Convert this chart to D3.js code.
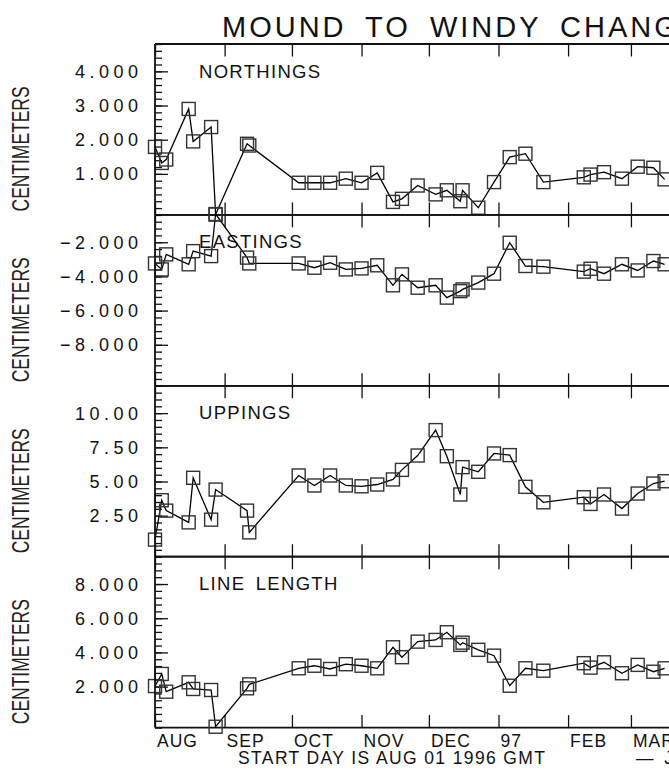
<!DOCTYPE html>
<html>
<head>
<meta charset="utf-8">
<script src="https://cdn.jsdelivr.net/npm/d3@7"></script>
<style>
  body { margin: 0; background: #fff; }
  svg { display: block; font-family: "Liberation Sans", Arial, sans-serif; }
</style>
</head>
<body>
<div id="chart"></div>
<script>
const svg_width = 669;
const svg_height = 772;

// measurement days (GMT)
const dates = [
  "1996-08-01", "1996-08-04", "1996-08-06", "1996-08-16", "1996-08-18",
  "1996-08-26", "1996-08-28", "1996-09-11", "1996-09-12", "1996-10-04",
  "1996-10-11", "1996-10-18", "1996-10-25", "1996-11-01", "1996-11-08",
  "1996-11-15", "1996-11-19", "1996-11-26", "1996-12-04", "1996-12-09",
  "1996-12-15", "1996-12-16", "1996-12-23", "1996-12-30", "1997-01-06",
  "1997-01-13", "1997-01-21", "1997-02-08", "1997-02-11", "1997-02-17",
  "1997-02-25", "1997-03-04", "1997-03-11", "1997-03-16"
];

const northings = [
  1.79, 1.32, 1.42, 2.90, 1.95, 2.37, -0.19, 1.88, 1.83, 0.74,
  0.74, 0.74, 0.86, 0.74, 1.03, 0.18, 0.27, 0.66, 0.40, 0.52,
  0.20, 0.52, 0.01, 0.76, 1.49, 1.59, 0.76, 0.90, 0.98, 1.05,
  0.86, 1.21, 1.18, 0.84
];

const eastings = [
  -3.24, -3.59, -2.71, -3.29, -2.52, -2.81, -0.35, -2.90, -3.24, -3.24,
  -3.49, -3.20, -3.59, -3.53, -3.35, -4.52, -3.88, -4.66, -4.52, -5.24,
  -4.86, -4.76, -4.36, -3.84, -2.03, -3.39, -3.43, -3.72, -3.55, -3.84,
  -3.29, -3.65, -3.10, -3.29
];

const uppings = [
  0.75, 3.63, 2.87, 2.01, 5.27, 2.21, 4.41, 2.87, 1.28, 5.44,
  4.71, 5.44, 4.71, 4.65, 4.78, 5.15, 5.85, 6.90, 8.76, 6.85,
  4.05, 6.05, 5.71, 7.05, 6.93, 4.61, 3.48, 3.85, 3.36, 4.05,
  3.02, 4.12, 4.85, 5.02
];

const line_length = [
  2.03, 2.74, 1.70, 2.25, 1.86, 1.80, -0.35, 1.90, 2.13, 3.07,
  3.22, 3.03, 3.31, 3.22, 3.07, 4.30, 3.72, 4.63, 4.73, 5.18,
  4.44, 4.57, 4.15, 3.81, 2.05, 3.07, 2.93, 3.37, 3.11, 3.42,
  2.78, 3.27, 2.87, 3.07
];

const panel_names = ["NORTHINGS", "EASTINGS", "UPPINGS", "LINE LENGTH"];
const panel_domains = [[-0.2, 4.8], [-10.4, -0.4], [-0.5, 12], [-0.4, 9.6]];
const major_ticks = [[1, 2, 3, 4], [-8, -6, -4, -2], [2.5, 5, 7.5, 10], [2, 4, 6, 8]];
const minor_steps = [0.2, 0.4, 0.5, 0.4];
const label_formats = [".3f", ".3f", ".2f", ".3f"];

const month_starts = [
  "1996-08-01", "1996-09-01", "1996-10-01", "1996-11-01",
  "1996-12-01", "1997-01-01", "1997-02-01", "1997-03-01"
];
const month_labels = ["AUG", "SEP", "OCT", "NOV", "DEC", "97", "FEB", "MAR"];

const title_text = "MOUND TO WINDY CHANGES";
const y_title = "CENTIMETERS";
const x_title = "START DAY IS AUG 01 1996 GMT";

const plot_left = 155;
const plot_top = 44;
const panel_height = 170.9;
const px_per_day = 2.245;

const parseDate = d3.utcParse("%Y-%m-%d");

const x = d3
  .scaleUtc()
  .domain([parseDate("1996-08-01"), parseDate("1997-08-01")])
  .range([plot_left, plot_left + 365 * px_per_day]);

function drawPanel(svgElement, i, values) {
  const top = plot_top + i * panel_height;
  const bottom = top + panel_height;
  const domain = panel_domains[i];

  const y = d3.scaleLinear().domain(domain).range([bottom, top]);

  const g = svgElement.append("g").attr("class", "panel");

  // minor ticks on the left axis, pointing in
  const step = minor_steps[i];
  let minor = [];
  for (let k = Math.ceil(domain[0] / step - 1e-6); k * step <= domain[1] + 1e-6; k++) {
    minor.push(+(k * step).toFixed(4));
  }

  g.append("g")
    .attr("transform", `translate(${plot_left}, 0)`)
    .call(d3.axisRight(y).tickValues(minor).tickSize(7).tickSizeOuter(0).tickFormat(""))
    .call((a) => a.select(".domain").remove())
    .selectAll("line")
    .attr("stroke", "#111")
    .attr("stroke-width", 1.3);

  g.append("g")
    .attr("transform", `translate(${plot_left}, 0)`)
    .call(d3.axisRight(y).tickValues(major_ticks[i]).tickSize(13).tickSizeOuter(0).tickFormat(""))
    .call((a) => a.select(".domain").remove())
    .selectAll("line")
    .attr("stroke", "#111")
    .attr("stroke-width", 1.3);

  // tick labels
  const fmt = d3.format(label_formats[i]);
  g.append("g")
    .selectAll("text")
    .data(major_ticks[i])
    .join("text")
    .attr("x", 142.5)
    .attr("y", (d) => y(d))
    .attr("dy", "0.36em")
    .attr("text-anchor", "end")
    .style("font-size", "18px")
    .style("letter-spacing", "4.5px")
    .attr("fill", "#111")
    .text((d) => fmt(d));

  // month ticks at top and bottom of the panel
  const months = month_starts.map(parseDate);
  g.append("g")
    .attr("transform", `translate(0, ${top})`)
    .call(d3.axisBottom(x).tickValues(months).tickSize(12.5).tickSizeOuter(0).tickFormat(""))
    .call((a) => a.select(".domain").remove())
    .selectAll("line")
    .attr("stroke", "#111")
    .attr("stroke-width", 1.3);

  g.append("g")
    .attr("transform", `translate(0, ${bottom})`)
    .call(d3.axisTop(x).tickValues(months).tickSize(12.5).tickSizeOuter(0).tickFormat(""))
    .call((a) => a.select(".domain").remove())
    .selectAll("line")
    .attr("stroke", "#111")
    .attr("stroke-width", 1.3);

  // panel borders
  g.append("line")
    .attr("x1", plot_left)
    .attr("x2", svg_width + 5)
    .attr("y1", top)
    .attr("y2", top)
    .attr("stroke", "#111")
    .attr("stroke-width", 1.8);

  g.append("line")
    .attr("x1", plot_left)
    .attr("x2", svg_width + 5)
    .attr("y1", bottom)
    .attr("y2", bottom)
    .attr("stroke", "#111")
    .attr("stroke-width", 1.8);

  // panel name
  g.append("text")
    .attr("x", 199)
    .attr("y", top + 33.5)
    .style("font-size", "18.5px")
    .style("letter-spacing", "1.3px")
    .style("word-spacing", "4px")
    .attr("fill", "#111")
    .text(panel_names[i]);

  // y title
  const cy = (top + bottom) / 2 + 19.5;
  g.append("text")
    .attr("transform", `translate(29, ${cy}) rotate(-90)`)
    .attr("text-anchor", "middle")
    .attr("textLength", 125)
    .attr("lengthAdjust", "spacingAndGlyphs")
    .style("font-size", "24px")
    .attr("fill", "#222")
    .text(y_title);

  // data
  const points = dates.map((d, k) => ({ date: parseDate(d), value: values[k] }));

  const line = d3
    .line()
    .x((d) => x(d.date))
    .y((d) => y(d.value));

  g.append("path")
    .datum(points)
    .attr("fill", "none")
    .attr("stroke", "#000")
    .attr("stroke-width", 1.3)
    .attr("d", line);

  g.append("g")
    .selectAll("rect")
    .data(points)
    .join("rect")
    .attr("x", (d) => x(d.date) - 6.5)
    .attr("y", (d) => y(d.value) - 6.5)
    .attr("width", 13)
    .attr("height", 13)
    .attr("fill", "none")
    .attr("stroke", "#333")
    .attr("stroke-width", 1.4);
}

function drawChart() {
  const svg = d3
    .select("#chart")
    .append("svg")
    .attr("width", svg_width)
    .attr("height", svg_height)
    .attr("viewBox", `0 0 ${svg_width} ${svg_height}`);

  svg.append("rect")
    .attr("width", svg_width)
    .attr("height", svg_height)
    .attr("fill", "#fff");

  const series = [northings, eastings, uppings, line_length];
  series.forEach((values, i) => drawPanel(svg, i, values));

  const bottom = plot_top + 4 * panel_height;

  // left axis line
  svg.append("line")
    .attr("x1", plot_left)
    .attr("x2", plot_left)
    .attr("y1", plot_top)
    .attr("y2", bottom)
    .attr("stroke", "#111")
    .attr("stroke-width", 1.8);

  // title
  svg.append("text")
    .attr("x", 222)
    .attr("y", 37)
    .style("font-size", "29px")
    .style("letter-spacing", "3px")
    .style("word-spacing", "8px")
    .attr("fill", "#111")
    .text(title_text);

  // month labels
  svg.append("g")
    .selectAll("text")
    .data(month_starts)
    .join("text")
    .attr("x", (d) => x(parseDate(d)) + 2)
    .attr("y", bottom + 19.5)
    .style("font-size", "17.5px")
    .style("letter-spacing", "1px")
    .attr("fill", "#111")
    .text((d, k) => month_labels[k]);

  svg.append("text")
    .attr("x", 238)
    .attr("y", bottom + 36)
    .attr("textLength", 307)
    .attr("lengthAdjust", "spacing")
    .style("font-size", "17.5px")
    .attr("fill", "#111")
    .text(x_title);

  svg.append("text")
    .attr("x", 636)
    .attr("y", bottom + 36)
    .style("font-size", "17.5px")
    .style("word-spacing", "6px")
    .attr("fill", "#111")
    .text("\u2014 J");
}

drawChart();
</script>
</body>
</html>
